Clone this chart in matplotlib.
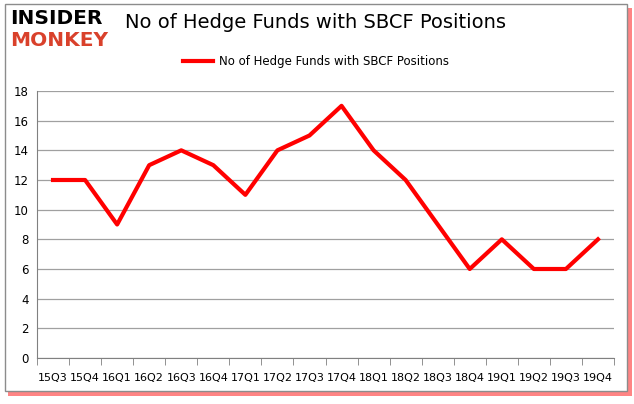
import numpy as np
import matplotlib
matplotlib.use("Agg")
import matplotlib.pyplot as plt
from matplotlib.patches import Rectangle

# Chart data
quarters = ["15Q3", "15Q4", "16Q1", "16Q2", "16Q3", "16Q4", "17Q1", "17Q2", "17Q3",
            "17Q4", "18Q1", "18Q2", "18Q3", "18Q4", "19Q1", "19Q2", "19Q3", "19Q4"]
fund_counts = [12, 12, 9, 13, 14, 13, 11, 14, 15, 17, 14, 12, 9, 6, 8, 6, 6, 8]
y_ticks = list(range(0, 19, 2))
series_name = "No of Hedge Funds with SBCF Positions"

fig = plt.figure(figsize=(6.34, 4.04), dpi=100)
fig.patch.set_facecolor("white")

# frame with red shadow
W, H = 634, 404
fig.patches.append(Rectangle((8 / W, 1 - 396 / H), 624 / W, 388 / H, transform=fig.transFigure,
                             facecolor="#ff2020", edgecolor="none", alpha=0.55, zorder=0))
fig.patches.append(Rectangle((5 / W, 1 - 391 / H), 622 / W, 387 / H, transform=fig.transFigure,
                             facecolor="white", edgecolor="#8c8c8c", linewidth=1.0, zorder=1))

ax = fig.add_axes([37 / W, 1 - 358 / H, 577 / W, 267 / H])
ax.set_zorder(2)
ax.set_facecolor("none")
x = np.arange(len(quarters))
line, = ax.plot(x, fund_counts, color="#ff0000", linewidth=3, solid_joinstyle="round",
                label=series_name, zorder=3)

ax.set_xlim(-0.5, len(quarters) - 0.5)
ax.set_ylim(0, 18)
ax.set_yticks(y_ticks)
ax.set_yticklabels([str(v) for v in y_ticks], fontsize=8.5)
ax.set_xticks(x)
ax.set_xticklabels(quarters, fontsize=8)
ax.tick_params(axis="x", length=0, pad=11)
ax.set_xticks(np.arange(-0.5, len(quarters)), minor=True)
ax.tick_params(axis="x", which="minor", length=5, color="#808080")
ax.tick_params(axis="y", length=0, pad=6)
ax.grid(axis="y", color="#a0a0a0", linewidth=0.9)
for side in ["top", "right"]:
    ax.spines[side].set_visible(False)
ax.spines["left"].set_color("#808080")
ax.spines["bottom"].set_color("#808080")

fig.text(125 / W, 1 - 22 / H, "No of Hedge Funds with SBCF Positions", fontsize=14,
         ha="left", va="center", color="black", zorder=3)
fig.text(10 / W, 1 - 18 / H, "INSIDER", fontsize=14.5, fontweight="heavy", ha="left",
         va="center", color="black", zorder=3)
fig.text(10 / W, 1 - 40 / H, "MONKEY", fontsize=14.5, fontweight="heavy", ha="left",
         va="center", color="#d9412b", zorder=3)

leg = fig.legend(handles=[line], loc="center", bbox_to_anchor=(316 / W, 1 - 62 / H), frameon=False,
                 fontsize=8.5, handlelength=2.6, handletextpad=0.5)
leg.set_zorder(3)

fig.savefig("out.png", dpi=100, facecolor="white")
